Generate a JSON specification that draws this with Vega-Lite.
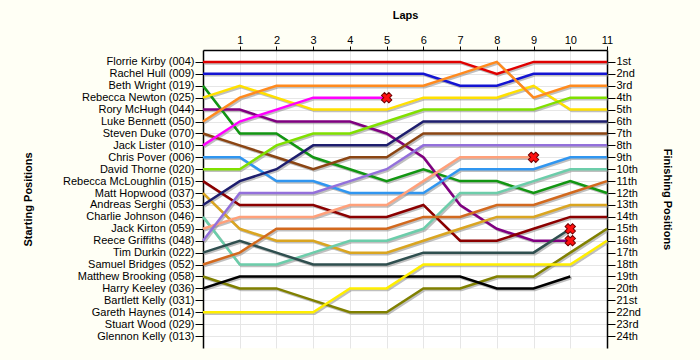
{
  "$schema": "https://vega.github.io/schema/vega-lite/v6.json",
  "autosize": "none",
  "width": 404,
  "height": 298,
  "padding": {"left": 203, "top": 50, "right": 93, "bottom": 12},
  "background": "#FFFFF5",
  "config": {
    "view": {"fill": "white", "stroke": null},
    "font": "Liberation Sans",
    "axis": {"labelFont": "Liberation Sans", "titleFont": "Liberation Sans", "labelFontSize": 11, "titleFontSize": 11, "titleFontWeight": "bold", "labelColor": "#000000", "titleColor": "#000000", "domainColor": "#000000", "tickColor": "#000000", "gridColor": "#E6E6E6", "gridWidth": 1}
  },
  "datasets": {
    "laps": [
      {"driver": "Florrie Kirby (004)", "lap": 0, "pos": 1}, {"driver": "Florrie Kirby (004)", "lap": 1, "pos": 1}, {"driver": "Florrie Kirby (004)", "lap": 2, "pos": 1}, {"driver": "Florrie Kirby (004)", "lap": 3, "pos": 1}, {"driver": "Florrie Kirby (004)", "lap": 4, "pos": 1}, {"driver": "Florrie Kirby (004)", "lap": 5, "pos": 1}, {"driver": "Florrie Kirby (004)", "lap": 6, "pos": 1}, {"driver": "Florrie Kirby (004)", "lap": 7, "pos": 1}, {"driver": "Florrie Kirby (004)", "lap": 8, "pos": 2}, {"driver": "Florrie Kirby (004)", "lap": 9, "pos": 1}, {"driver": "Florrie Kirby (004)", "lap": 10, "pos": 1}, {"driver": "Florrie Kirby (004)", "lap": 11, "pos": 1},
      {"driver": "Rachel Hull (009)", "lap": 0, "pos": 2}, {"driver": "Rachel Hull (009)", "lap": 1, "pos": 2}, {"driver": "Rachel Hull (009)", "lap": 2, "pos": 2}, {"driver": "Rachel Hull (009)", "lap": 3, "pos": 2}, {"driver": "Rachel Hull (009)", "lap": 4, "pos": 2}, {"driver": "Rachel Hull (009)", "lap": 5, "pos": 2}, {"driver": "Rachel Hull (009)", "lap": 6, "pos": 2}, {"driver": "Rachel Hull (009)", "lap": 7, "pos": 3}, {"driver": "Rachel Hull (009)", "lap": 8, "pos": 3}, {"driver": "Rachel Hull (009)", "lap": 9, "pos": 2}, {"driver": "Rachel Hull (009)", "lap": 10, "pos": 2}, {"driver": "Rachel Hull (009)", "lap": 11, "pos": 2},
      {"driver": "Beth Wright (019)", "lap": 0, "pos": 3}, {"driver": "Beth Wright (019)", "lap": 1, "pos": 7}, {"driver": "Beth Wright (019)", "lap": 2, "pos": 7}, {"driver": "Beth Wright (019)", "lap": 3, "pos": 9}, {"driver": "Beth Wright (019)", "lap": 4, "pos": 10}, {"driver": "Beth Wright (019)", "lap": 5, "pos": 11}, {"driver": "Beth Wright (019)", "lap": 6, "pos": 10}, {"driver": "Beth Wright (019)", "lap": 7, "pos": 11}, {"driver": "Beth Wright (019)", "lap": 8, "pos": 11}, {"driver": "Beth Wright (019)", "lap": 9, "pos": 12}, {"driver": "Beth Wright (019)", "lap": 10, "pos": 11}, {"driver": "Beth Wright (019)", "lap": 11, "pos": 12},
      {"driver": "Rebecca Newton (025)", "lap": 0, "pos": 4}, {"driver": "Rebecca Newton (025)", "lap": 1, "pos": 3}, {"driver": "Rebecca Newton (025)", "lap": 2, "pos": 4}, {"driver": "Rebecca Newton (025)", "lap": 3, "pos": 5}, {"driver": "Rebecca Newton (025)", "lap": 4, "pos": 5}, {"driver": "Rebecca Newton (025)", "lap": 5, "pos": 5}, {"driver": "Rebecca Newton (025)", "lap": 6, "pos": 4}, {"driver": "Rebecca Newton (025)", "lap": 7, "pos": 4}, {"driver": "Rebecca Newton (025)", "lap": 8, "pos": 4}, {"driver": "Rebecca Newton (025)", "lap": 9, "pos": 3}, {"driver": "Rebecca Newton (025)", "lap": 10, "pos": 5}, {"driver": "Rebecca Newton (025)", "lap": 11, "pos": 5},
      {"driver": "Rory McHugh (044)", "lap": 0, "pos": 5}, {"driver": "Rory McHugh (044)", "lap": 1, "pos": 5}, {"driver": "Rory McHugh (044)", "lap": 2, "pos": 6}, {"driver": "Rory McHugh (044)", "lap": 3, "pos": 6}, {"driver": "Rory McHugh (044)", "lap": 4, "pos": 6}, {"driver": "Rory McHugh (044)", "lap": 5, "pos": 7}, {"driver": "Rory McHugh (044)", "lap": 6, "pos": 9}, {"driver": "Rory McHugh (044)", "lap": 7, "pos": 13}, {"driver": "Rory McHugh (044)", "lap": 8, "pos": 15}, {"driver": "Rory McHugh (044)", "lap": 9, "pos": 16}, {"driver": "Rory McHugh (044)", "lap": 10, "pos": 16},
      {"driver": "Luke Bennett (050)", "lap": 0, "pos": 6}, {"driver": "Luke Bennett (050)", "lap": 1, "pos": 4}, {"driver": "Luke Bennett (050)", "lap": 2, "pos": 3}, {"driver": "Luke Bennett (050)", "lap": 3, "pos": 3}, {"driver": "Luke Bennett (050)", "lap": 4, "pos": 3}, {"driver": "Luke Bennett (050)", "lap": 5, "pos": 3}, {"driver": "Luke Bennett (050)", "lap": 6, "pos": 3}, {"driver": "Luke Bennett (050)", "lap": 7, "pos": 2}, {"driver": "Luke Bennett (050)", "lap": 8, "pos": 1}, {"driver": "Luke Bennett (050)", "lap": 9, "pos": 4}, {"driver": "Luke Bennett (050)", "lap": 10, "pos": 3}, {"driver": "Luke Bennett (050)", "lap": 11, "pos": 3},
      {"driver": "Steven Duke (070)", "lap": 0, "pos": 7}, {"driver": "Steven Duke (070)", "lap": 1, "pos": 8}, {"driver": "Steven Duke (070)", "lap": 2, "pos": 9}, {"driver": "Steven Duke (070)", "lap": 3, "pos": 10}, {"driver": "Steven Duke (070)", "lap": 4, "pos": 9}, {"driver": "Steven Duke (070)", "lap": 5, "pos": 9}, {"driver": "Steven Duke (070)", "lap": 6, "pos": 7}, {"driver": "Steven Duke (070)", "lap": 7, "pos": 7}, {"driver": "Steven Duke (070)", "lap": 8, "pos": 7}, {"driver": "Steven Duke (070)", "lap": 9, "pos": 7}, {"driver": "Steven Duke (070)", "lap": 10, "pos": 7}, {"driver": "Steven Duke (070)", "lap": 11, "pos": 7},
      {"driver": "Jack Lister (010)", "lap": 0, "pos": 8}, {"driver": "Jack Lister (010)", "lap": 1, "pos": 6}, {"driver": "Jack Lister (010)", "lap": 2, "pos": 5}, {"driver": "Jack Lister (010)", "lap": 3, "pos": 4}, {"driver": "Jack Lister (010)", "lap": 4, "pos": 4}, {"driver": "Jack Lister (010)", "lap": 5, "pos": 4},
      {"driver": "Chris Pover (006)", "lap": 0, "pos": 9}, {"driver": "Chris Pover (006)", "lap": 1, "pos": 9}, {"driver": "Chris Pover (006)", "lap": 2, "pos": 11}, {"driver": "Chris Pover (006)", "lap": 3, "pos": 11}, {"driver": "Chris Pover (006)", "lap": 4, "pos": 12}, {"driver": "Chris Pover (006)", "lap": 5, "pos": 12}, {"driver": "Chris Pover (006)", "lap": 6, "pos": 12}, {"driver": "Chris Pover (006)", "lap": 7, "pos": 10}, {"driver": "Chris Pover (006)", "lap": 8, "pos": 10}, {"driver": "Chris Pover (006)", "lap": 9, "pos": 10}, {"driver": "Chris Pover (006)", "lap": 10, "pos": 9}, {"driver": "Chris Pover (006)", "lap": 11, "pos": 9},
      {"driver": "David Thorne (020)", "lap": 0, "pos": 10}, {"driver": "David Thorne (020)", "lap": 1, "pos": 10}, {"driver": "David Thorne (020)", "lap": 2, "pos": 8}, {"driver": "David Thorne (020)", "lap": 3, "pos": 7}, {"driver": "David Thorne (020)", "lap": 4, "pos": 7}, {"driver": "David Thorne (020)", "lap": 5, "pos": 6}, {"driver": "David Thorne (020)", "lap": 6, "pos": 5}, {"driver": "David Thorne (020)", "lap": 7, "pos": 5}, {"driver": "David Thorne (020)", "lap": 8, "pos": 5}, {"driver": "David Thorne (020)", "lap": 9, "pos": 5}, {"driver": "David Thorne (020)", "lap": 10, "pos": 4}, {"driver": "David Thorne (020)", "lap": 11, "pos": 4},
      {"driver": "Rebecca McLoughlin (015)", "lap": 0, "pos": 11}, {"driver": "Rebecca McLoughlin (015)", "lap": 1, "pos": 13}, {"driver": "Rebecca McLoughlin (015)", "lap": 2, "pos": 13}, {"driver": "Rebecca McLoughlin (015)", "lap": 3, "pos": 13}, {"driver": "Rebecca McLoughlin (015)", "lap": 4, "pos": 14}, {"driver": "Rebecca McLoughlin (015)", "lap": 5, "pos": 14}, {"driver": "Rebecca McLoughlin (015)", "lap": 6, "pos": 13}, {"driver": "Rebecca McLoughlin (015)", "lap": 7, "pos": 16}, {"driver": "Rebecca McLoughlin (015)", "lap": 8, "pos": 16}, {"driver": "Rebecca McLoughlin (015)", "lap": 9, "pos": 15}, {"driver": "Rebecca McLoughlin (015)", "lap": 10, "pos": 14}, {"driver": "Rebecca McLoughlin (015)", "lap": 11, "pos": 14},
      {"driver": "Matt Hopwood (037)", "lap": 0, "pos": 12}, {"driver": "Matt Hopwood (037)", "lap": 1, "pos": 15}, {"driver": "Matt Hopwood (037)", "lap": 2, "pos": 16}, {"driver": "Matt Hopwood (037)", "lap": 3, "pos": 16}, {"driver": "Matt Hopwood (037)", "lap": 4, "pos": 17}, {"driver": "Matt Hopwood (037)", "lap": 5, "pos": 17}, {"driver": "Matt Hopwood (037)", "lap": 6, "pos": 16}, {"driver": "Matt Hopwood (037)", "lap": 7, "pos": 15}, {"driver": "Matt Hopwood (037)", "lap": 8, "pos": 14}, {"driver": "Matt Hopwood (037)", "lap": 9, "pos": 14}, {"driver": "Matt Hopwood (037)", "lap": 10, "pos": 13}, {"driver": "Matt Hopwood (037)", "lap": 11, "pos": 13},
      {"driver": "Andreas Serghi (053)", "lap": 0, "pos": 13}, {"driver": "Andreas Serghi (053)", "lap": 1, "pos": 11}, {"driver": "Andreas Serghi (053)", "lap": 2, "pos": 10}, {"driver": "Andreas Serghi (053)", "lap": 3, "pos": 8}, {"driver": "Andreas Serghi (053)", "lap": 4, "pos": 8}, {"driver": "Andreas Serghi (053)", "lap": 5, "pos": 8}, {"driver": "Andreas Serghi (053)", "lap": 6, "pos": 6}, {"driver": "Andreas Serghi (053)", "lap": 7, "pos": 6}, {"driver": "Andreas Serghi (053)", "lap": 8, "pos": 6}, {"driver": "Andreas Serghi (053)", "lap": 9, "pos": 6}, {"driver": "Andreas Serghi (053)", "lap": 10, "pos": 6}, {"driver": "Andreas Serghi (053)", "lap": 11, "pos": 6},
      {"driver": "Charlie Johnson (046)", "lap": 0, "pos": 14}, {"driver": "Charlie Johnson (046)", "lap": 1, "pos": 18}, {"driver": "Charlie Johnson (046)", "lap": 2, "pos": 18}, {"driver": "Charlie Johnson (046)", "lap": 3, "pos": 17}, {"driver": "Charlie Johnson (046)", "lap": 4, "pos": 16}, {"driver": "Charlie Johnson (046)", "lap": 5, "pos": 16}, {"driver": "Charlie Johnson (046)", "lap": 6, "pos": 15}, {"driver": "Charlie Johnson (046)", "lap": 7, "pos": 12}, {"driver": "Charlie Johnson (046)", "lap": 8, "pos": 12}, {"driver": "Charlie Johnson (046)", "lap": 9, "pos": 11}, {"driver": "Charlie Johnson (046)", "lap": 10, "pos": 10}, {"driver": "Charlie Johnson (046)", "lap": 11, "pos": 10},
      {"driver": "Jack Kirton (059)", "lap": 0, "pos": 15}, {"driver": "Jack Kirton (059)", "lap": 1, "pos": 14}, {"driver": "Jack Kirton (059)", "lap": 2, "pos": 14}, {"driver": "Jack Kirton (059)", "lap": 3, "pos": 14}, {"driver": "Jack Kirton (059)", "lap": 4, "pos": 13}, {"driver": "Jack Kirton (059)", "lap": 5, "pos": 13}, {"driver": "Jack Kirton (059)", "lap": 6, "pos": 11}, {"driver": "Jack Kirton (059)", "lap": 7, "pos": 9}, {"driver": "Jack Kirton (059)", "lap": 8, "pos": 9}, {"driver": "Jack Kirton (059)", "lap": 9, "pos": 9},
      {"driver": "Reece Griffiths (048)", "lap": 0, "pos": 16}, {"driver": "Reece Griffiths (048)", "lap": 1, "pos": 12}, {"driver": "Reece Griffiths (048)", "lap": 2, "pos": 12}, {"driver": "Reece Griffiths (048)", "lap": 3, "pos": 12}, {"driver": "Reece Griffiths (048)", "lap": 4, "pos": 11}, {"driver": "Reece Griffiths (048)", "lap": 5, "pos": 10}, {"driver": "Reece Griffiths (048)", "lap": 6, "pos": 8}, {"driver": "Reece Griffiths (048)", "lap": 7, "pos": 8}, {"driver": "Reece Griffiths (048)", "lap": 8, "pos": 8}, {"driver": "Reece Griffiths (048)", "lap": 9, "pos": 8}, {"driver": "Reece Griffiths (048)", "lap": 10, "pos": 8}, {"driver": "Reece Griffiths (048)", "lap": 11, "pos": 8},
      {"driver": "Tim Durkin (022)", "lap": 0, "pos": 17}, {"driver": "Tim Durkin (022)", "lap": 1, "pos": 16}, {"driver": "Tim Durkin (022)", "lap": 2, "pos": 17}, {"driver": "Tim Durkin (022)", "lap": 3, "pos": 18}, {"driver": "Tim Durkin (022)", "lap": 4, "pos": 18}, {"driver": "Tim Durkin (022)", "lap": 5, "pos": 18}, {"driver": "Tim Durkin (022)", "lap": 6, "pos": 17}, {"driver": "Tim Durkin (022)", "lap": 7, "pos": 17}, {"driver": "Tim Durkin (022)", "lap": 8, "pos": 17}, {"driver": "Tim Durkin (022)", "lap": 9, "pos": 17}, {"driver": "Tim Durkin (022)", "lap": 10, "pos": 15},
      {"driver": "Samuel Bridges (052)", "lap": 0, "pos": 18}, {"driver": "Samuel Bridges (052)", "lap": 1, "pos": 17}, {"driver": "Samuel Bridges (052)", "lap": 2, "pos": 15}, {"driver": "Samuel Bridges (052)", "lap": 3, "pos": 15}, {"driver": "Samuel Bridges (052)", "lap": 4, "pos": 15}, {"driver": "Samuel Bridges (052)", "lap": 5, "pos": 15}, {"driver": "Samuel Bridges (052)", "lap": 6, "pos": 14}, {"driver": "Samuel Bridges (052)", "lap": 7, "pos": 14}, {"driver": "Samuel Bridges (052)", "lap": 8, "pos": 13}, {"driver": "Samuel Bridges (052)", "lap": 9, "pos": 13}, {"driver": "Samuel Bridges (052)", "lap": 10, "pos": 12}, {"driver": "Samuel Bridges (052)", "lap": 11, "pos": 11},
      {"driver": "Matthew Brooking (058)", "lap": 0, "pos": 19}, {"driver": "Matthew Brooking (058)", "lap": 1, "pos": 20}, {"driver": "Matthew Brooking (058)", "lap": 2, "pos": 20}, {"driver": "Matthew Brooking (058)", "lap": 3, "pos": 21}, {"driver": "Matthew Brooking (058)", "lap": 4, "pos": 22}, {"driver": "Matthew Brooking (058)", "lap": 5, "pos": 22}, {"driver": "Matthew Brooking (058)", "lap": 6, "pos": 20}, {"driver": "Matthew Brooking (058)", "lap": 7, "pos": 20}, {"driver": "Matthew Brooking (058)", "lap": 8, "pos": 19}, {"driver": "Matthew Brooking (058)", "lap": 9, "pos": 19}, {"driver": "Matthew Brooking (058)", "lap": 10, "pos": 17}, {"driver": "Matthew Brooking (058)", "lap": 11, "pos": 15},
      {"driver": "Harry Keeley (036)", "lap": 0, "pos": 20}, {"driver": "Harry Keeley (036)", "lap": 1, "pos": 19}, {"driver": "Harry Keeley (036)", "lap": 2, "pos": 19}, {"driver": "Harry Keeley (036)", "lap": 3, "pos": 19}, {"driver": "Harry Keeley (036)", "lap": 4, "pos": 19}, {"driver": "Harry Keeley (036)", "lap": 5, "pos": 19}, {"driver": "Harry Keeley (036)", "lap": 6, "pos": 19}, {"driver": "Harry Keeley (036)", "lap": 7, "pos": 19}, {"driver": "Harry Keeley (036)", "lap": 8, "pos": 20}, {"driver": "Harry Keeley (036)", "lap": 9, "pos": 20}, {"driver": "Harry Keeley (036)", "lap": 10, "pos": 19},
      {"driver": "Gareth Haynes (014)", "lap": 0, "pos": 22}, {"driver": "Gareth Haynes (014)", "lap": 1, "pos": 22}, {"driver": "Gareth Haynes (014)", "lap": 2, "pos": 22}, {"driver": "Gareth Haynes (014)", "lap": 3, "pos": 22}, {"driver": "Gareth Haynes (014)", "lap": 4, "pos": 20}, {"driver": "Gareth Haynes (014)", "lap": 5, "pos": 20}, {"driver": "Gareth Haynes (014)", "lap": 6, "pos": 18}, {"driver": "Gareth Haynes (014)", "lap": 7, "pos": 18}, {"driver": "Gareth Haynes (014)", "lap": 8, "pos": 18}, {"driver": "Gareth Haynes (014)", "lap": 9, "pos": 18}, {"driver": "Gareth Haynes (014)", "lap": 10, "pos": 18}, {"driver": "Gareth Haynes (014)", "lap": 11, "pos": 16}
    ],
    "retired": [
      {"driver": "Jack Lister (010)", "lap": 5, "pos": 4},
      {"driver": "Jack Kirton (059)", "lap": 9, "pos": 9},
      {"driver": "Tim Durkin (022)", "lap": 10, "pos": 15},
      {"driver": "Rory McHugh (044)", "lap": 10, "pos": 16}
    ]
  },
  "encoding": {
    "x": {"field": "lap", "type": "quantitative", "scale": {"domain": [0, 11], "nice": false, "zero": false},
      "axis": {"orient": "top", "values": [1, 2, 3, 4, 5, 6, 7, 8, 9, 10, 11], "grid": true, "tickSize": 4, "labelPadding": 1, "title": "Laps", "titlePadding": 14, "labelFlush": false, "labelOverlap": false, "domainWidth": 1.5}}
  },
  "layer": [
    {
      "data": {"name": "laps"},
      "mark": {"type": "line", "stroke": "#8A8A8A", "strokeWidth": 2.5, "opacity": 0.55, "xOffset": 1.5, "yOffset": 1.5},
      "encoding": {
        "detail": {"field": "driver", "type": "nominal"},
        "order": {"field": "lap", "type": "quantitative"},
        "y": {"field": "pos", "type": "quantitative", "scale": {"domain": [0, 25], "reverse": true, "nice": false, "zero": false},
          "axis": {"orient": "left", "values": [1,2,3,4,5,6,7,8,9,10,11,12,13,14,15,16,17,18,19,20,21,22,23,24], "grid": true, "tickSize": 8, "labelPadding": 1, "labelOverlap": false, "labelFlush": false, "domainWidth": 1.5,
            "labelExpr": "['','Florrie Kirby (004)','Rachel Hull (009)','Beth Wright (019)','Rebecca Newton (025)','Rory McHugh (044)','Luke Bennett (050)','Steven Duke (070)','Jack Lister (010)','Chris Pover (006)','David Thorne (020)','Rebecca McLoughlin (015)','Matt Hopwood (037)','Andreas Serghi (053)','Charlie Johnson (046)','Jack Kirton (059)','Reece Griffiths (048)','Tim Durkin (022)','Samuel Bridges (052)','Matthew Brooking (058)','Harry Keeley (036)','Bartlett Kelly (031)','Gareth Haynes (014)','Stuart Wood (029)','Glennon Kelly (013)'][datum.value]",
            "title": "Starting Positions", "titleAngle": -90, "titleX": -175, "titleY": 149, "titleAlign": "center", "titleBaseline": "middle"}}
      }
    },
    {
      "data": {"name": "laps"},
      "mark": {"type": "line", "strokeWidth": 2.5},
      "encoding": {
        "color": {"field": "driver", "type": "nominal", "legend": null,
          "scale": {
            "domain": ["Florrie Kirby (004)","Rachel Hull (009)","Beth Wright (019)","Rebecca Newton (025)","Rory McHugh (044)","Luke Bennett (050)","Steven Duke (070)","Jack Lister (010)","Chris Pover (006)","David Thorne (020)","Rebecca McLoughlin (015)","Matt Hopwood (037)","Andreas Serghi (053)","Charlie Johnson (046)","Jack Kirton (059)","Reece Griffiths (048)","Tim Durkin (022)","Samuel Bridges (052)","Matthew Brooking (058)","Harry Keeley (036)","Gareth Haynes (014)"],
            "range": ["#E00000","#1414D2","#129612","#FFE000","#800080","#FF8A1E","#8B4513","#FF00FF","#3096F0","#80E000","#8B0000","#DAA520","#1E1E6E","#6CCDAA","#FFA07A","#9370DB","#2F4F4F","#D2691E","#808000","#000000","#FFEE00"]}},
        "order": {"field": "lap", "type": "quantitative"},
        "y": {"field": "pos", "type": "quantitative", "scale": {"domain": [0, 25], "reverse": true, "nice": false, "zero": false},
          "axis": {"orient": "right", "values": [1,2,3,4,5,6,7,8,9,10,11,12,13,14,15,16,17,18,19,20,21,22,23,24], "grid": false, "tickSize": 8, "labelPadding": 1, "labelOverlap": false, "labelFlush": false, "domainWidth": 1.5,
            "labelExpr": "['','1st','2nd','3rd','4th','5th','6th','7th','8th','9th','10th','11th','12th','13th','14th','15th','16th','17th','18th','19th','20th','21st','22nd','23rd','24th'][datum.value]",
            "title": "Finishing Positions", "titleAngle": 90, "titleX": 59, "titleY": 149, "titleAlign": "center", "titleBaseline": "middle"}}
      }
    },
    {
      "data": {"name": "retired"},
      "mark": {"type": "point", "shape": "cross", "angle": 45, "filled": true, "fill": "#FF1010", "stroke": "#700000", "strokeWidth": 1, "size": 110, "opacity": 1},
      "encoding": {
        "y": {"field": "pos", "type": "quantitative", "scale": {"domain": [0, 25], "reverse": true, "nice": false, "zero": false}, "axis": null}
      }
    }
  ],
  "resolve": {"scale": {"y": "shared"}, "axis": {"y": "independent"}}
}
